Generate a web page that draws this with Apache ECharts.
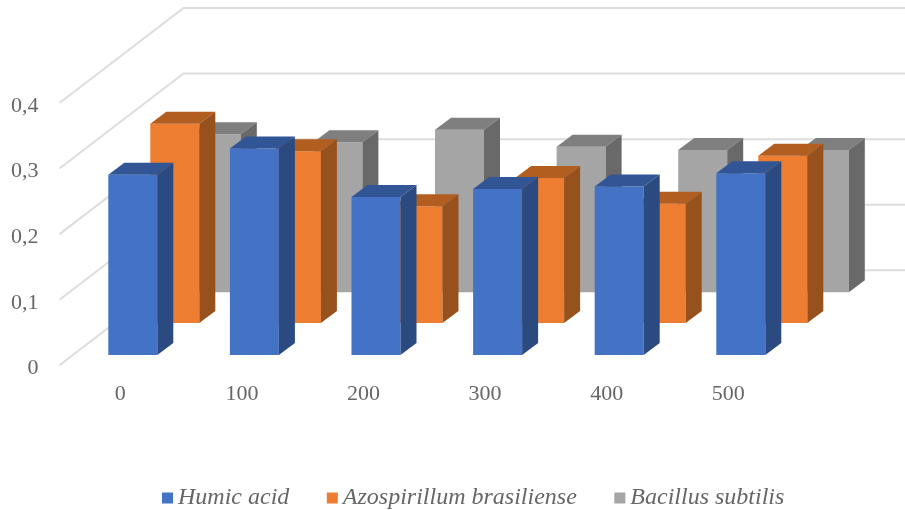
<!DOCTYPE html>
<html>
<head>
<meta charset="utf-8">
<title>3D bars</title>
<script src="https://cdn.jsdelivr.net/npm/echarts@6/dist/echarts.min.js"></script>
<style>
  html, body { margin: 0; padding: 0; background: #fff; }
  #main { width: 905px; height: 510px; }
</style>
</head>
<body>
<div id="main"></div>
<script>
// values
const categories = ['0', '100', '200', '300', '400', '500'];
const humicAcid = [0.275, 0.315, 0.241, 0.253, 0.257, 0.277];
const azospirillum = [0.304, 0.262, 0.178, 0.221, 0.182, 0.255];
const bacillus = [0.241, 0.229, 0.248, 0.222, 0.217, 0.217];
const gridTicks = [0, 0.1, 0.2, 0.3, 0.4];

const BAR_WIDTH = 49;
const BAR_DEPTH = [16, -12];   // side/top faces of a bar
const WALL_DEPTH = [124, -95]; // from front edge of the left wall to the back wall

// draws a box, rowShift moves the row towards the back of the chart
function boxRenderer(rowShift, front, top, side) {
  return function (params, api) {
    const base = api.coord([api.value(0), 0]);
    const head = api.coord([api.value(0), api.value(1)]);
    const x0 = base[0] + rowShift[0] - BAR_WIDTH / 2;
    const x1 = x0 + BAR_WIDTH;
    const y0 = base[1] + rowShift[1];
    const y1 = head[1] + rowShift[1];
    const dx = BAR_DEPTH[0];
    const dy = BAR_DEPTH[1];
    return {
      type: 'group',
      children: [
        { type: 'polygon', shape: { points: [[x0, y1], [x1, y1], [x1, y0], [x0, y0]] }, style: { fill: front } },
        { type: 'polygon', shape: { points: [[x0, y1], [x0 + dx, y1 + dy], [x1 + dx, y1 + dy], [x1, y1]] }, style: { fill: top } },
        { type: 'polygon', shape: { points: [[x1, y1], [x1 + dx, y1 + dy], [x1 + dx, y0 + dy], [x1, y0]] }, style: { fill: side } }
      ]
    };
  };
}

function wallRenderer(params, api) {
  const p = api.coord([0, api.value(0)]);
  const left = p[0] - api.size([1, 0])[0] / 2;
  return {
    type: 'polyline',
    shape: {
      points: [
        [left, p[1]],
        [left + WALL_DEPTH[0], p[1] + WALL_DEPTH[1]],
        [api.getWidth(), p[1] + WALL_DEPTH[1]]
      ]
    },
    style: { fill: null, stroke: '#dddddd', lineWidth: 2 }
  };
}

function barSeries(name, values, color, z, renderItem) {
  return {
    name: name,
    type: 'custom',
    z: z,
    itemStyle: { color: color },
    encode: { x: 0, y: 1 },
    data: values.map((v, i) => [i, v]),
    renderItem: renderItem
  };
}

const chart = echarts.init(document.getElementById('main'));
chart.setOption({
  animation: false,
  backgroundColor: '#fff',
  textStyle: { fontFamily: '"Liberation Serif"' },
  grid: { left: 59.5, top: 103, width: 729.6, height: 262.3 },
  legend: {
    left: 157,
    top: 481,
    icon: 'rect',
    itemWidth: 11,
    itemHeight: 11,
    itemGap: 37.5,
    data: ['Humic acid', 'Azospirillum brasiliense', 'Bacillus subtilis'],
    textStyle: { fontFamily: '"Liberation Serif"', fontStyle: 'italic', fontSize: 24, color: '#666' }
  },
  xAxis: {
    type: 'category',
    data: categories,
    axisLine: { show: false },
    axisTick: { show: false },
    axisLabel: { fontSize: 22, color: '#666', margin: 18, fontFamily: '"Liberation Serif"' }
  },
  yAxis: {
    type: 'value',
    min: 0,
    max: 0.4,
    interval: 0.1,
    axisLine: { show: false },
    axisTick: { show: false },
    splitLine: { show: false },
    axisLabel: {
      fontSize: 22,
      color: '#666',
      margin: 21,
      verticalAlign: 'top',
      lineHeight: 6,
      fontFamily: '"Liberation Serif"',
      formatter: v => String(v).replace('.', ',')
    }
  },
  series: [
    {
      type: 'custom',
      z: 1,
      silent: true,
      encode: { y: 0 },
      data: gridTicks.map(v => [v]),
      renderItem: wallRenderer
    },
    barSeries('Bacillus subtilis', bacillus, '#a5a5a5', 2, boxRenderer([96, -73], '#a5a5a5', '#7f7f7f', '#696969')),
    barSeries('Azospirillum brasiliense', azospirillum, '#ed7d31', 3, boxRenderer([54.5, -42.3], '#ed7d31', '#b25e20', '#96511c')),
    barSeries('Humic acid', humicAcid, '#4472c4', 4, boxRenderer([12.5, -10.3], '#4472c4', '#325596', '#2a4a80'))
  ]
});
</script>
</body>
</html>
